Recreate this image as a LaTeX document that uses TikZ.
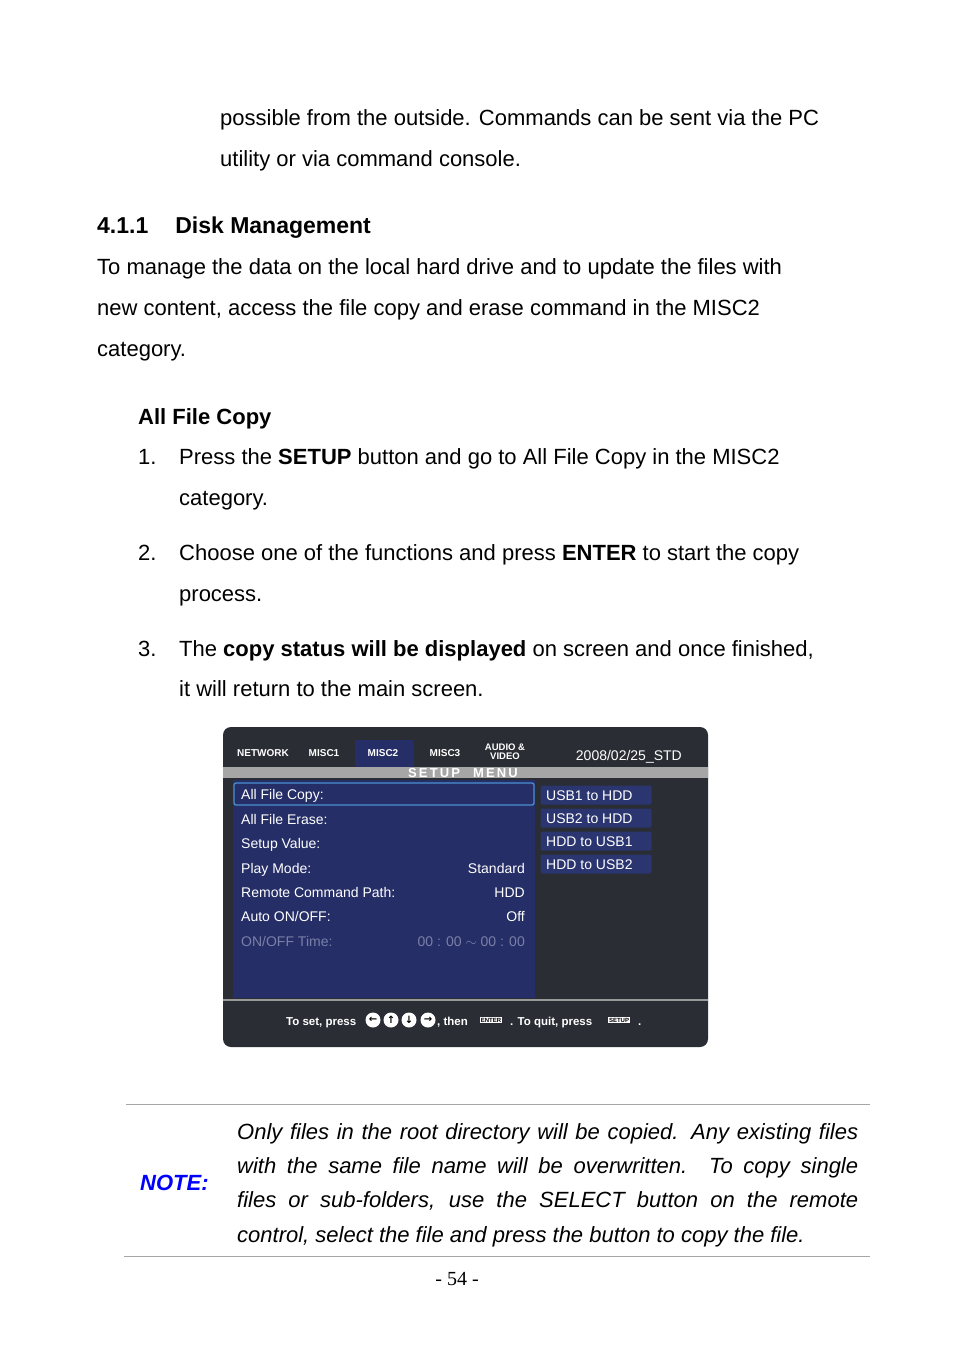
\documentclass[tikz,border=0pt]{standalone}
\usepackage{fontspec}
\setmainfont{Liberation Sans}
\newfontfamily\serifpn{Liberation Serif}
\newfontfamily\dv{DejaVu Sans}
\begin{document}
\begin{tikzpicture}[x=1pt,y=-1pt,
  body/.style={anchor=base west,inner sep=0pt,font=\fontsize{22}{26}\selectfont},
  scr/.style={anchor=base west,inner sep=0pt,text=white,font=\fontsize{14}{16}\selectfont},
  tab/.style={anchor=base,inner sep=0pt,text=white,font=\fontsize{10}{11}\bfseries\selectfont},
  btn/.style={fill=navybtn,rounded corners=2pt,minimum width=111pt,minimum height=19pt,inner sep=0pt},
  note/.style={anchor=base west,inner sep=0pt,font=\fontsize{22}{26}\itshape\selectfont},
  ico/.style={circle,fill=white,inner sep=0pt,minimum size=15pt,font=\dv\fontsize{10}{10}\bfseries\selectfont,text=black},
  keyb/.style={fill=white,inner sep=1pt,font=\fontsize{6}{6}\bfseries\selectfont,text=black}]
\definecolor{scrbg}{HTML}{2A2D33}
\definecolor{navy}{HTML}{252E66}
\definecolor{navybtn}{HTML}{2B3570}
\definecolor{selb}{HTML}{4A90D0}
\definecolor{greyt}{HTML}{7A80A8}
\useasboundingbox (0,0) rectangle (954,1355);
\fill[white] (0,0) rectangle (954,1355);
\node[body] (p1) at (220,125) {possible from the outside. Commands can be sent via the PC};
\node[body] (p2) at (220,166) {utility or via command console.};
\node[body,font=\fontsize{23}{26}\bfseries\selectfont] (h1) at (97,233) {4.1.1\hspace{27pt}Disk Management};
\node[body] (p3) at (97,274) {To manage the data on the local hard drive and to update the files with};
\node[body] (p4) at (97,315) {new content, access the file copy and erase command in the MISC2};
\node[body] (p5) at (97,356) {category.};
\node[body,font=\fontsize{22}{26}\bfseries\selectfont] (h2) at (138,424) {All File Copy};
\node[body] (n1) at (138,464) {1.};
\node[body] (l1) at (179,464) {Press the \textbf{SETUP} button and go to All File Copy in the MISC2};
\node[body] (l1b) at (179,505) {category.};
\node[body] (n2) at (138,560) {2.};
\node[body] (l2) at (179,560) {Choose one of the functions and press \textbf{ENTER} to start the copy};
\node[body] (l2b) at (179,601) {process.};
\node[body] (n3) at (138,656) {3.};
\node[body] (l3) at (179,656) {The \textbf{copy status will be displayed} on screen and once finished,};
\node[body] (l3b) at (179,696) {it will return to the main screen.};
% screen
\fill[scrbg,rounded corners=8pt] (223,727) rectangle (708,1047);
\fill[navy,rounded corners=2pt] (355,740) rectangle (414,767);
\fill[gray!70] (223,767) rectangle (708,778);
\node[anchor=center,inner sep=0pt,text=white,font=\fontsize{13}{13}\bfseries\selectfont] (sm) at (463,773) {S\,E\,T\,U\,P\quad M\,E\,N\,U};
\node[tab] (t1) at (263,756) {NETWORK};
\node[tab] (t2) at (324,756) {MISC1};
\node[tab] (t3) at (383,756) {MISC2};
\node[tab] (t4) at (445,756) {MISC3};
\node[tab,align=center,anchor=center,font=\fontsize{9.5}{9}\bfseries\selectfont] (t5) at (505,752) {AUDIO \&\\VIDEO};
\node[scr,anchor=base east] (dt) at (682,760) {2008/02/25\_STD};
\fill[navy] (233,780) rectangle (535,998);
\draw[selb,line width=1.3pt,rounded corners=2pt] (234,783) rectangle (534,805);
\node[scr] (r1) at (241,799) {All File Copy:};
\node[scr] (r2) at (241,824) {All File Erase:};
\node[scr] (r3) at (241,848) {Setup Value:};
\node[scr] (r4) at (241,873) {Play Mode:};
\node[scr,anchor=base east] (v4) at (525,873) {Standard};
\node[scr] (r5) at (241,897) {Remote Command Path:};
\node[scr,anchor=base east] (v5) at (525,897) {HDD};
\node[scr] (r6) at (241,921) {Auto ON/OFF:};
\node[scr,anchor=base east] (v6) at (525,921) {Off};
\node[scr,text=greyt] (r7) at (241,946) {ON/OFF Time:};
\node[scr,text=greyt,anchor=base east] (v7) at (525,946) {00 : 00 $\sim$ 00 : 00};
\node[btn] (b1) at (596,795) {};
\node[btn] (b2) at (596,818) {};
\node[btn] (b3) at (596,841) {};
\node[btn] (b4) at (596,864) {};
\node[scr] at (546,800) {USB1 to HDD};
\node[scr] at (546,823) {USB2 to HDD};
\node[scr] at (546,846) {HDD to USB1};
\node[scr] at (546,869) {HDD to USB2};
\draw[gray!80,line width=2pt] (223,1000) -- (708,1000);
\node[anchor=base west,inner sep=0pt,text=white,font=\fontsize{11.5}{12}\bfseries\selectfont] (bt1) at (286,1025) {To set, press};
\node[ico] (i1) at (373,1020) {←};
\node[ico] (i2) at (391,1020) {↑};
\node[ico] (i3) at (409,1020) {↓};
\node[ico] (i4) at (428,1020) {→};
\node[anchor=base west,inner sep=0pt,text=white,font=\fontsize{11.5}{12}\bfseries\selectfont] (bt2) at (437,1025) {, then};
\node[keyb] (k1) at (491,1020) {ENTER};
\node[anchor=base west,inner sep=0pt,text=white,font=\fontsize{11.5}{12}\bfseries\selectfont] (bt3) at (510,1025) {. To quit, press};
\node[keyb] (k2) at (619,1020) {SETUP};
\node[anchor=base west,inner sep=0pt,text=white,font=\fontsize{11.5}{12}\bfseries\selectfont] (bt4) at (638,1025) {.};
% note
\draw[gray!70,line width=0.8pt] (126,1104) -- (870,1104);
\draw[gray!70,line width=0.8pt] (124,1256) -- (870,1256);
\node[anchor=base west,inner sep=0pt,text=blue,font=\fontsize{22}{26}\bfseries\itshape\selectfont] (nt) at (140,1190) {NOTE:};
\node[note] (m1) at (237,1139) {\makebox[621pt][s]{Only files in the root directory will be copied. Any existing files}};
\node[note] (m2) at (237,1173) {\makebox[621pt][s]{with the same file name will be overwritten. To copy single}};
\node[note] (m3) at (237,1207) {\makebox[621pt][s]{files or sub-folders, use the SELECT button on the remote}};
\node[note] (m4) at (237,1242) {control, select the file and press the button to copy the file.};
\node[anchor=base,inner sep=0pt,font=\serifpn\fontsize{20}{22}\selectfont] (pn) at (457,1285) {- 54 -};
\end{tikzpicture}
\end{document}
